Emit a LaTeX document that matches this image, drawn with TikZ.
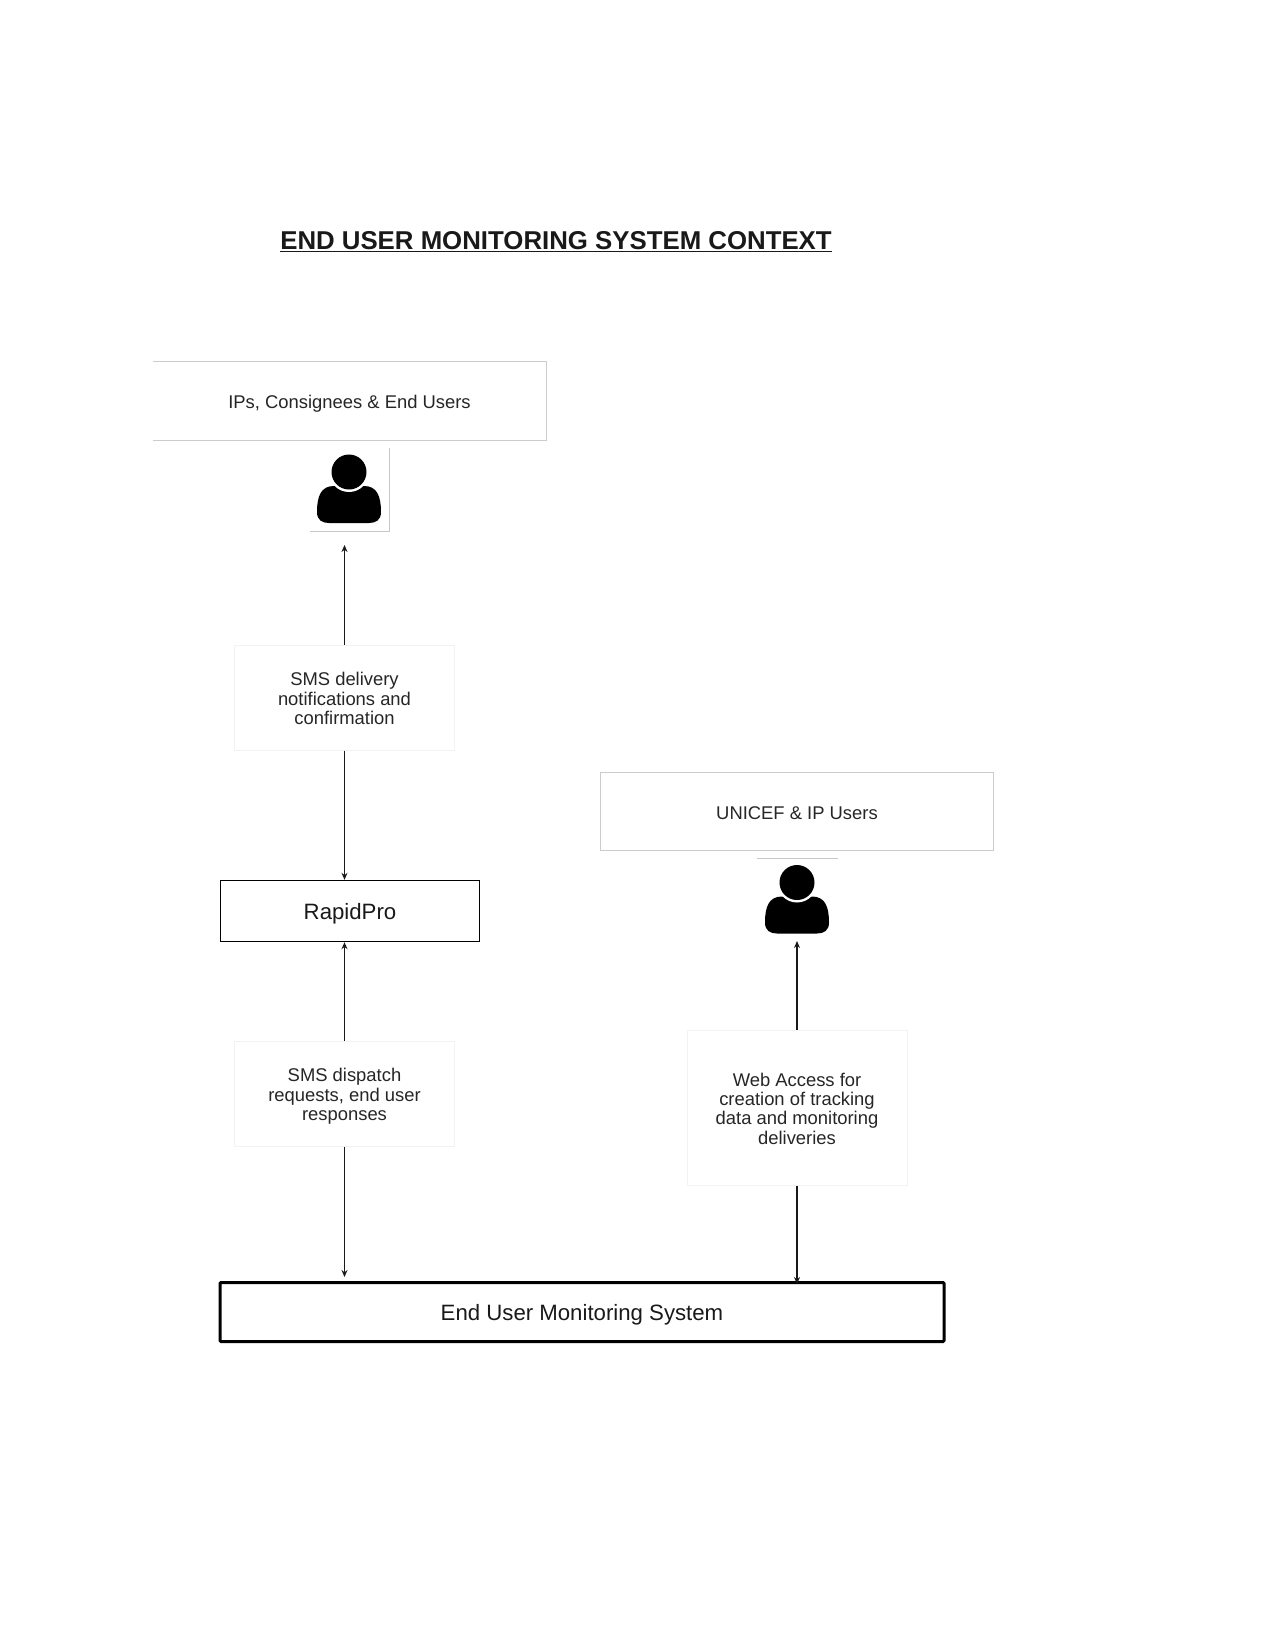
\documentclass[tikz,border=0pt]{standalone}
\usepackage{fontspec}
\setmainfont{Liberation Sans}
\usetikzlibrary{arrows.meta}
\newcommand\lowertext[1]{\raisebox{-3.8pt}[\height][\depth]{\begin{tabular}{@{}c@{}}#1\end{tabular}}}
\tikzset{
  x=1pt,y=-1pt,
  lbl/.style={align=center,text=black!85,inner sep=0pt,font=\fontsize{18.4}{19.3}\selectfont},
  userbox/.style={lbl,draw=black!20,line width=1pt,minimum width=393pt,minimum height=78pt},
  msgbox/.style={lbl,draw=black!5,line width=1pt,minimum width=220pt},
  sysbox/.style={align=center,inner sep=0pt,font=\fontsize{22.2}{24}\selectfont,draw=black,text=black!90},
  link/.style={draw=black!90,line width=1.5pt,-{Stealth[length=7pt,width=6pt]}},
  frameline/.style={draw=black!22,line width=0.8pt},
  personicon/.pic={
    \fill[black] (-32,40) .. controls (-32,24) and (-28,14) .. (-15,14) -- (15,14) .. controls (28,14) and (32,24) .. (32,40) .. controls (32,48) and (27,51) .. (20,51) -- (-20,51) .. controls (-27,51) and (-32,48) .. (-32,40) -- cycle;
    \fill[white] (0,0) circle[radius=20];
    \fill[black] (0,0) circle[radius=17.5];
  }
}
\begin{document}
\begin{tikzpicture}
\useasboundingbox[fill=white] (0,0) rectangle (1275,1650);

\node[inner sep=0pt,font=\fontsize{25.8}{28}\bfseries\selectfont,text=black!90] (title) at (556,242) {\underline{END USER MONITORING SYSTEM CONTEXT}};

% left user box: open on its left side
\node[lbl,minimum width=393pt,minimum height=78pt] (ipsbox) at (349.5,401) {\lowertext{IPs, Consignees \& End Users}};
\draw[line width=1pt,draw=black!20] (ipsbox.north west) -- (ipsbox.north east) -- (ipsbox.south east) -- (ipsbox.south west);
\pic at (349,472) {personicon};
\draw[frameline] (389,448) -- (389,531) -- (310,531);

\node[msgbox,minimum height=105pt] (smsnotify) at (344.5,697.5) {\lowertext{SMS delivery\\notifications and\\confirmation}};
\node[sysbox,line width=1.4pt,minimum width=259pt,minimum height=61pt] (rapid) at (350,911) {\lowertext{RapidPro}};
\node[msgbox,minimum height=105pt] (smsdispatch) at (344.5,1093.5) {\lowertext{SMS dispatch\\requests, end user\\responses}};

\node[userbox] (unicefbox) at (797,811.5) {\lowertext{UNICEF \& IP Users}};
\draw[frameline] (757,858) -- (838,858);
\pic at (797,882.5) {personicon};
\node[msgbox,minimum height=155pt] (webaccess) at (797,1107.5) {\lowertext{Web Access for\\creation of tracking\\data and monitoring\\deliveries}};

\node[sysbox,line width=3pt,rounded corners=1pt,minimum width=724pt,minimum height=59pt] (eums) at (582,1312) {\lowertext{End User Monitoring System}};

\coordinate (tipone) at (344.5,545);
\coordinate (tiptwo) at (797,941);
\draw[link] (smsnotify.north) -- (tipone);
\draw[link] (smsnotify.south) -- (smsnotify.south |- rapid.north);
\draw[link] (smsdispatch.north) -- (smsdispatch.north |- rapid.south);
\draw[link,shorten >=4pt] (smsdispatch.south) -- (smsdispatch.south |- eums.north);
\draw[link] (webaccess.north) -- (tiptwo);
\draw[link,shorten >=-3pt] (webaccess.south) -- (webaccess.south |- eums.north);
\end{tikzpicture}
\end{document}
